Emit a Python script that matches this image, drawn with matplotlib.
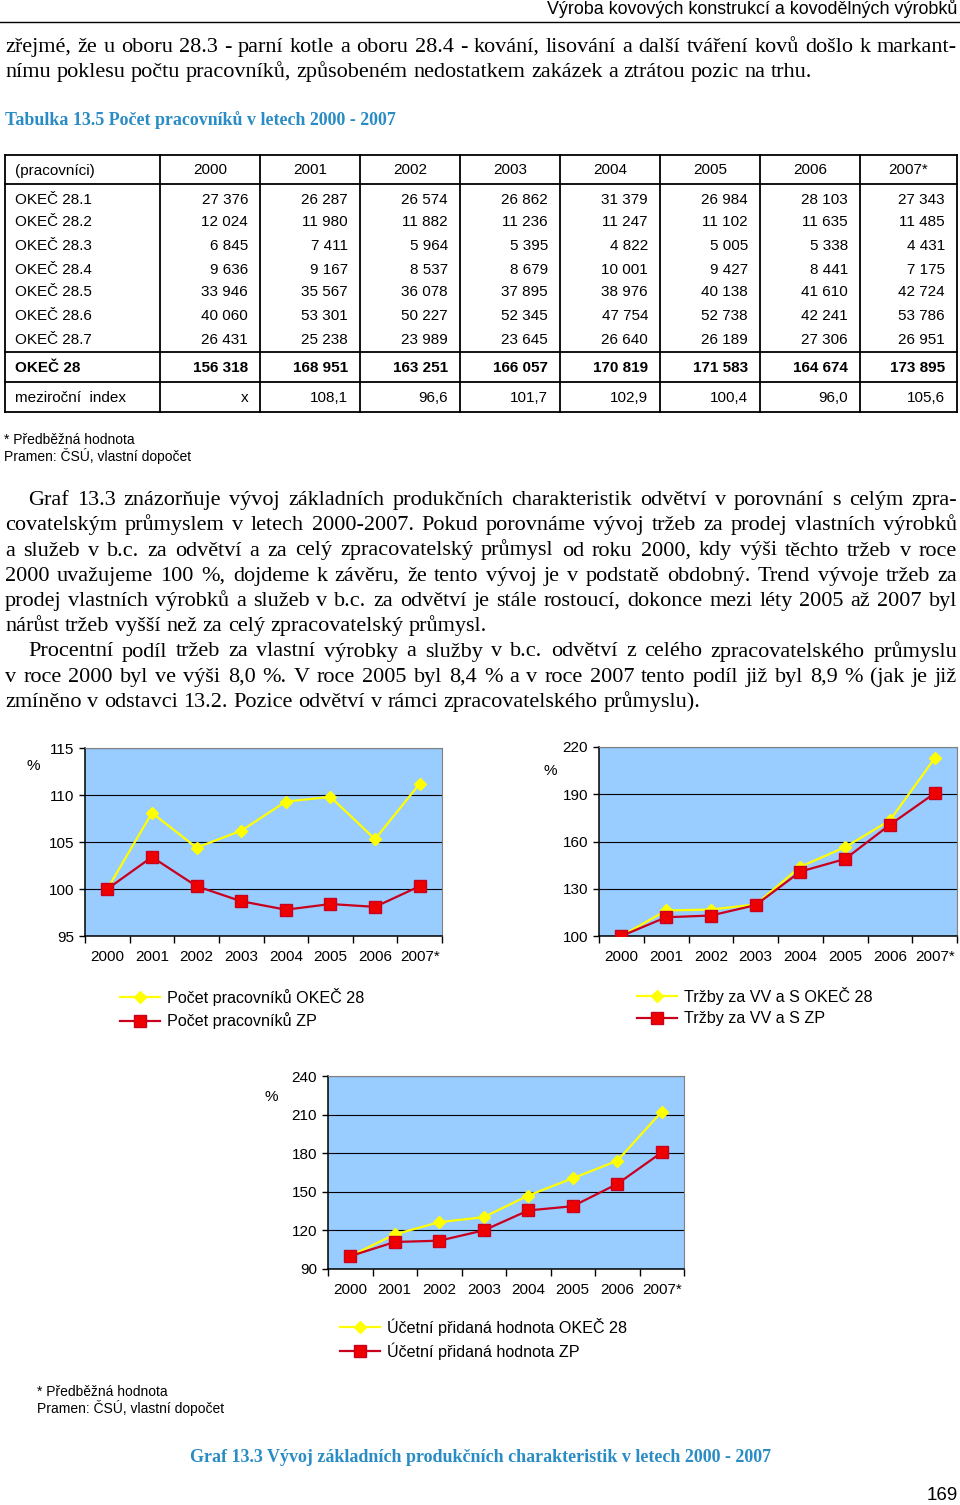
import numpy as np
import matplotlib
matplotlib.use('Agg')
import matplotlib.pyplot as plt

W, H = 960, 1505
SERIF = 'Liberation Serif'
SANS = 'Liberation Sans'
BLUE = '#2a8cc4'

# ---- data ----
years = ['2000', '2001', '2002', '2003', '2004', '2005', '2006', '2007*']
row_labels = ['OKEČ 28.1', 'OKEČ 28.2', 'OKEČ 28.3', 'OKEČ 28.4',
              'OKEČ 28.5', 'OKEČ 28.6', 'OKEČ 28.7']
okec_281 = [27376, 26287, 26574, 26862, 31379, 26984, 28103, 27343]
okec_282 = [12024, 11980, 11882, 11236, 11247, 11102, 11635, 11485]
okec_283 = [6845, 7411, 5964, 5395, 4822, 5005, 5338, 4431]
okec_284 = [9636, 9167, 8537, 8679, 10001, 9427, 8441, 7175]
okec_285 = [33946, 35567, 36078, 37895, 38976, 40138, 41610, 42724]
okec_286 = [40060, 53301, 50227, 52345, 47754, 52738, 42241, 53786]
okec_287 = [26431, 25238, 23989, 23645, 26640, 26189, 27306, 26951]
okec_28 = [156318, 168951, 163251, 166057, 170819, 171583, 164674, 173895]
yoy_index = [None, 108.1, 96.6, 101.7, 102.9, 100.4, 96.0, 105.6]

emp_okec = [100, 108.1, 104.4, 106.2, 109.3, 109.8, 105.3, 111.2]
emp_zp = [100, 103.4, 100.3, 98.7, 97.8, 98.4, 98.1, 100.3]
sales_okec = [100, 116.2, 116.8, 120.0, 144.0, 156.4, 173.4, 212.8]
sales_zp = [100, 111.9, 113.0, 119.6, 140.9, 148.9, 170.6, 190.6]
va_okec = [100, 116.9, 126.4, 130.3, 147.1, 160.5, 174.1, 212.3]
va_zp = [100, 111.0, 112.0, 120.0, 135.5, 138.8, 156.1, 180.6]

top_lines = [
    'zřejmé, že u oboru 28.3 - parní kotle a oboru 28.4 - kování, lisování a další tváření kovů došlo k markant-',
    'nímu poklesu počtu pracovníků, způsobeném nedostatkem zakázek a ztrátou pozic na trhu.',
]
body_lines = [
    'Graf 13.3 znázorňuje vývoj základních produkčních charakteristik odvětví v porovnání s celým zpra-',
    'covatelským průmyslem v letech 2000-2007. Pokud porovnáme vývoj tržeb za prodej vlastních výrobků',
    'a služeb v b.c. za odvětví a za celý zpracovatelský průmysl od roku 2000, kdy výši těchto tržeb v roce',
    '2000 uvažujeme 100 %, dojdeme k závěru, že tento vývoj je v podstatě obdobný. Trend vývoje tržeb za',
    'prodej vlastních výrobků a služeb v b.c. za odvětví je stále rostoucí, dokonce mezi léty 2005 až 2007 byl',
    'nárůst tržeb vyšší než za celý zpracovatelský průmysl.',
    'Procentní podíl tržeb za vlastní výrobky a služby v b.c. odvětví z celého zpracovatelského průmyslu',
    'v roce 2000 byl ve výši 8,0 %. V roce 2005 byl 8,4 % a v roce 2007 tento podíl již byl 8,9 % (jak je již',
    'zmíněno v odstavci 13.2. Pozice odvětví v rámci zpracovatelského průmyslu).',
]
body_indent = [True, False, False, False, False, False, True, False, False]
body_last = [False, False, False, False, False, True, False, False, True]

fig = plt.figure(figsize=(W / 100, H / 100), dpi=100)
bg = fig.add_axes([0, 0, 1, 1], zorder=0)
bg.set_xlim(0, W)
bg.set_ylim(H, 0)
bg.axis('off')
renderer = fig.canvas.get_renderer()


def text_width(s, fs, family, weight='normal'):
    t = bg.text(0, 0, s, fontsize=fs, family=family, weight=weight)
    w = t.get_window_extent(renderer).width
    t.remove()
    return w


def line_out(s, x0, x1, yb, fs, justify=True):
    words = s.split(' ')
    ws = [text_width(w, fs, SERIF) for w in words]
    space = text_width('a a', fs, SERIF) - text_width('aa', fs, SERIF)
    if justify and len(words) > 1:
        gap = max((x1 - x0 - sum(ws)) / (len(words) - 1), 2)
    else:
        gap = space
    x = x0
    for w, wd in zip(words, ws):
        bg.text(x, yb, w, fontsize=fs, family=SERIF, va='baseline', ha='left')
        x += wd + gap


def fmt(v):
    return f'{v:,}'.replace(',', ' ')


# header
bg.text(957, 9, 'Výroba kovových konstrukcí a kovodělných výrobků', fontsize=12.9,
        family=SANS, ha='right', va='center')
bg.plot([0, 960], [22, 22], color='black', lw=1)

# top paragraph
top_base = [52, 77]
for i, s in enumerate(top_lines):
    line_out(s, 5, 957, top_base[i], 16, justify=(i == 0))

bg.text(5, 120, 'Tabulka 13.5 Počet pracovníků v letech 2000 - 2007', fontsize=12.9,
        family=SERIF, weight='bold', color=BLUE, va='center')

# table
col_x = [5, 160, 260, 360, 460, 560, 660, 760, 860, 957]
tab_top, tab_head, tab_data, tab_tot, tab_bot = 155, 184, 352, 382, 412
for yl in [tab_top, tab_head, tab_data, tab_tot, tab_bot]:
    bg.plot([col_x[0], col_x[-1]], [yl, yl], color='black', lw=1.3)
for xl in col_x:
    bg.plot([xl, xl], [tab_top, tab_bot], color='black', lw=1.3)

tfs = 11
bg.text(15, 169, '(pracovníci)', fontsize=tfs, family=SANS, va='center_baseline')
for j, yr in enumerate(years):
    bg.text((col_x[j + 1] + col_x[j + 2]) / 2, 169, yr, fontsize=tfs, family=SANS,
            ha='center', va='center_baseline')
rows = [okec_281, okec_282, okec_283, okec_284, okec_285, okec_286, okec_287]
row_y = [198, 221, 245, 268, 291, 315, 338]
for lab, vals, yy in zip(row_labels, rows, row_y):
    bg.text(15, yy, lab, fontsize=tfs, family=SANS, va='center_baseline')
    for j, v in enumerate(vals):
        bg.text(col_x[j + 2] - 12, yy, fmt(v), fontsize=tfs, family=SANS,
                ha='right', va='center_baseline')
bg.text(15, 367, 'OKEČ 28', fontsize=tfs, family=SANS, weight='bold', va='center_baseline')
for j, v in enumerate(okec_28):
    bg.text(col_x[j + 2] - 12, 367, fmt(v), fontsize=tfs, family=SANS, weight='bold',
            ha='right', va='center_baseline')
bg.text(15, 396, 'meziroční  index', fontsize=tfs, family=SANS, va='center_baseline')
for j, v in enumerate(yoy_index):
    s = 'x' if v is None else f'{v:.1f}'.replace('.', ',')
    bg.text(col_x[j + 2] - 12, 396, s, fontsize=tfs, family=SANS,
            ha='right', va='center_baseline')

bg.text(4, 440, '* Předběžná hodnota', fontsize=10, family=SANS, va='center')
bg.text(4, 456, 'Pramen: ČSÚ, vlastní dopočet', fontsize=10, family=SANS, va='center')

# body paragraphs
for i, s in enumerate(body_lines):
    x0 = 28 if body_indent[i] else 5
    line_out(s, x0, 957, 505 + i * 25.25, 16, justify=not body_last[i])


def chart(box, ylim, step, okec, zp, pct, leg, labels):
    x0, y0, x1, y1 = box
    ax = fig.add_axes([x0 / W, 1 - y1 / H, (x1 - x0) / W, (y1 - y0) / H], zorder=2)
    ax.set_facecolor('#99ccff')
    x = np.arange(len(years))
    l1, = ax.plot(x, okec, color='#ffff00', lw=1.6, marker='D', ms=6.5,
                  mfc='#ffff00', mec='#ffff00', zorder=3)
    l2, = ax.plot(x, zp, color='#c8001e', lw=1.6, marker='s', ms=8.5,
                  mfc='#ee0000', mec='#c8001e', zorder=4)
    ax.set_xlim(-0.5, len(years) - 0.5)
    ax.set_ylim(*ylim)
    ax.set_yticks(np.arange(ylim[0], ylim[1] + 1, step))
    ax.yaxis.grid(True, color='black', lw=0.8)
    ax.set_axisbelow(True)
    ax.set_xticks(np.arange(-0.5, len(years), 1))
    ax.set_xticklabels([])
    ax.set_xticks(x, minor=True)
    ax.set_xticklabels(years, minor=True)
    ax.tick_params(axis='x', which='minor', length=0, pad=10, labelsize=11)
    ax.tick_params(axis='x', which='major', length=5, width=1)
    ax.tick_params(axis='y', length=4, width=1, pad=4, labelsize=11)
    for lab in ax.get_xticklabels(minor=True) + ax.get_yticklabels():
        lab.set_family(SANS)
    for sp in ['top', 'right']:
        ax.spines[sp].set_color('#808080')
        ax.spines[sp].set_linewidth(0.8)
    for sp in ['left', 'bottom']:
        ax.spines[sp].set_linewidth(1.1)
    bg.text(pct[0], pct[1], '%', fontsize=11, family=SANS, ha='center', va='center')
    ax.legend([l1, l2], labels, loc='upper left', bbox_to_anchor=leg,
              bbox_transform=bg.transData, frameon=False, borderpad=0,
              borderaxespad=0, handlelength=2.5, handletextpad=0.4,
              labelspacing=0.4, prop={'family': SANS, 'size': 11.6})
    return ax


chart((85, 748, 442, 936), (95, 115), 5, emp_okec, emp_zp, (33, 766), (120, 988),
      ['Počet pracovníků OKEČ 28', 'Počet pracovníků ZP'])
chart((599, 747, 957, 936), (100, 220), 30, sales_okec, sales_zp, (550, 771), (637, 987),
      ['Tržby za VV a S OKEČ 28', 'Tržby za VV a S ZP'])
chart((328, 1076, 684, 1269), (90, 240), 30, va_okec, va_zp, (271, 1097), (340, 1318),
      ['Účetní přidaná hodnota OKEČ 28', 'Účetní přidaná hodnota ZP'])

bg.text(37, 1392, '* Předběžná hodnota', fontsize=10, family=SANS, va='center')
bg.text(37, 1408, 'Pramen: ČSÚ, vlastní dopočet', fontsize=10, family=SANS, va='center')

bg.text(481, 1457, 'Graf 13.3 Vývoj základních produkčních charakteristik v letech 2000 - 2007',
        fontsize=13, family=SERIF, weight='bold', color=BLUE, ha='center', va='center')
bg.text(958, 1495, '169', fontsize=13.5, family=SANS, ha='right', va='center')

fig.savefig('out.png', dpi=100)
